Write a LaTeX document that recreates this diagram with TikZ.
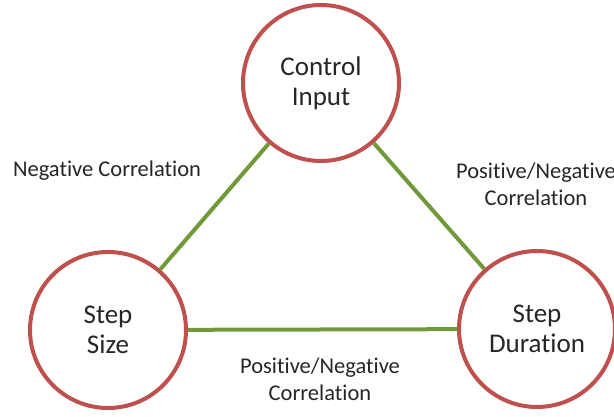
\documentclass[tikz,border=0pt]{standalone}
\usepackage{fontspec}
\setmainfont{Carlito}[Ligatures=NoCommon]
\definecolor{ringred}{RGB}{192,80,77}
\definecolor{linkgreen}{RGB}{112,154,58}
\definecolor{txtgray}{RGB}{38,38,38}
\tikzset{
  ring/.style={circle,draw=ringred,line width=4pt,fill=white,minimum size=156pt,
    inner sep=0pt,align=center,font=\fontsize{27}{30}\selectfont,text=txtgray},
  link/.style={draw=linkgreen,line width=4pt},
  corr/.style={align=center,font=\fontsize{22.5}{27}\selectfont,text=txtgray}
}
\begin{document}
\begin{tikzpicture}[x=1pt,y=1pt]
\useasboundingbox (0,0) rectangle (614,417);
\node (ctrl) at (321,334) [ring] {Control\\Input};
\node (size) at (108,87) [ring] {Step\\Size};
\node (dur) at (537,88) [ring] {Step\\Duration};
\draw[link] (ctrl) -- (size);
\draw[link] (ctrl) -- (dur);
\draw[link] (size) -- (dur);
\node (negcorr) at (107,246) [corr] {Negative Correlation};
\node (posneg) at (536,233) [corr] {Positive/Negative\\Correlation};
\node (posneg2) at (320,38) [corr] {Positive/Negative\\Correlation};
\end{tikzpicture}
\end{document}
